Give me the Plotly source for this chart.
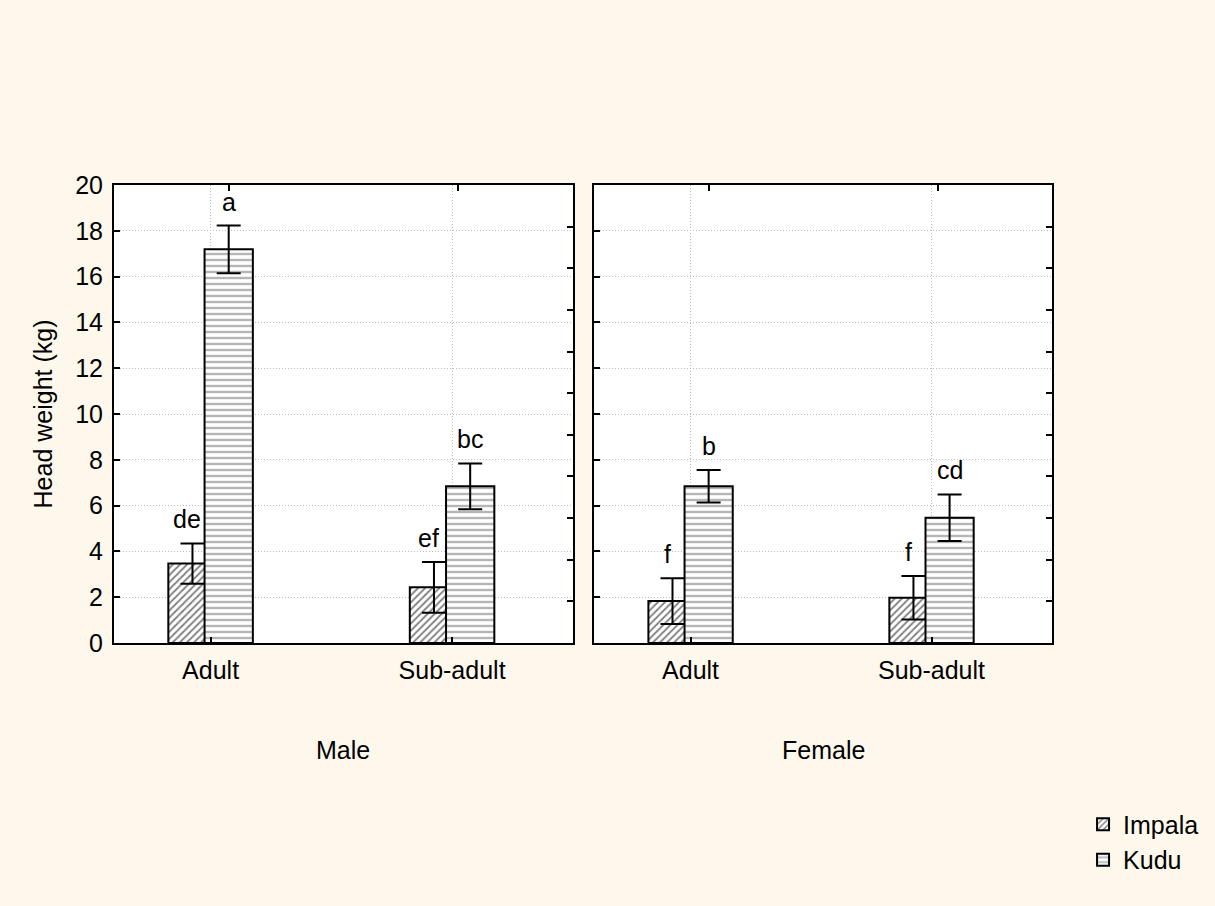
import plotly.graph_objects as go

# ---------------- data ----------------
categories = ["Adult", "Sub-adult"]
panels = ["Male", "Female"]

impala_male = [3.47, 2.43]
impala_male_err = [0.88, 1.11]
kudu_male = [17.19, 6.84]
kudu_male_err = [1.04, 1.00]

impala_female = [1.83, 1.98]
impala_female_err = [1.00, 0.95]
kudu_female = [6.84, 5.47]
kudu_female_err = [0.71, 1.02]

impala_male_letters = ["de", "ef"]
kudu_male_letters = ["a", "bc"]
impala_female_letters = ["f", "f"]
kudu_female_letters = ["b", "cd"]

y_ticks = list(range(0, 21, 2))

# ---------------- style ----------------
FONT = "Arial, 'Liberation Sans', sans-serif"
FS = 25
BG = "#FEF8EC"
BAR_W = 0.2
IMP_OFF = -0.175
KUD_OFF = -0.025
GRID = "#BDBDBD"

imp_pattern = dict(shape="/", fgcolor="black", bgcolor="white", size=5, solidity=0.36, fillmode="overlay")
kud_pattern = dict(shape="-", fgcolor="#6E6E6E", bgcolor="white", size=6, solidity=0.4, fillmode="overlay")

fig = go.Figure()

data_sets = [
    ("x", "y", impala_male, impala_male_err, kudu_male, kudu_male_err, impala_male_letters, kudu_male_letters, True),
    ("x2", "y2", impala_female, impala_female_err, kudu_female, kudu_female_err, impala_female_letters, kudu_female_letters, False),
]

annotations = []
for xa, ya, imp, imp_e, kud, kud_e, imp_l, kud_l, show in data_sets:
    fig.add_trace(go.Bar(
        x=categories, y=imp, name="Impala", width=BAR_W, offset=IMP_OFF,
        marker=dict(color="white", pattern=imp_pattern, line=dict(color="black", width=2)),
        error_y=dict(type="data", array=imp_e, color="black", thickness=2, width=12),
        xaxis=xa, yaxis=ya, showlegend=show, legendgroup="imp", opacity=1,
    ))
    fig.add_trace(go.Bar(
        x=categories, y=kud, name="Kudu", width=BAR_W, offset=KUD_OFF,
        marker=dict(color="white", pattern=kud_pattern, line=dict(color="black", width=2)),
        error_y=dict(type="data", array=kud_e, color="black", thickness=2, width=12),
        xaxis=xa, yaxis=ya, showlegend=show, legendgroup="kud", opacity=1,
    ))
    for i in range(len(categories)):
        annotations.append(dict(
            x=i + IMP_OFF + BAR_W / 2, y=imp[i] + imp_e[i], xref=xa, yref=ya,
            text=imp_l[i], showarrow=False, yanchor="bottom", xanchor="center",
            yshift=8, xshift=-5, font=dict(family=FONT, size=FS, color="black"),
        ))
        annotations.append(dict(
            x=i + KUD_OFF + BAR_W / 2, y=kud[i] + kud_e[i], xref=xa, yref=ya,
            text=kud_l[i], showarrow=False, yanchor="bottom", xanchor="center",
            yshift=8, font=dict(family=FONT, size=FS, color="black"),
        ))

# empty traces so the decorative overlay axes (top / right ticks) are drawn
fig.add_trace(go.Scatter(x=[], y=[], xaxis="x3", yaxis="y3", showlegend=False))
fig.add_trace(go.Scatter(x=[], y=[], xaxis="x4", yaxis="y4", showlegend=False))

for j, name in enumerate(panels):
    annotations.append(dict(
        x=0.5, xref=("x domain" if j == 0 else "x2 domain"), y=-0.2336, yref="paper",
        text=name, showarrow=False, yanchor="middle", xanchor="center",
        font=dict(family=FONT, size=FS, color="black"),
    ))

dom_l = [0.0, 0.48914]
dom_r = [0.51193, 1.0]
XR = [-0.4, 1.5]

xcommon = dict(
    type="category", range=XR, showline=True, linecolor="black", linewidth=2, mirror=True,
    ticks="inside", ticklen=6, tickwidth=2, tickcolor="black",
    showgrid=True, gridcolor=GRID, griddash="1px,2px", gridwidth=1,
    tickfont=dict(family=FONT, size=FS, color="black"), ticklabelstandoff=4,
)
ycommon = dict(
    range=[0, 20], tickvals=y_ticks, showline=True, linecolor="black", linewidth=2, mirror=True,
    ticks="inside", ticklen=6, tickwidth=2, tickcolor="black",
    showgrid=True, gridcolor=GRID, griddash="1px,2px", gridwidth=1, zeroline=False,
    tickfont=dict(family=FONT, size=FS, color="black"),
)
top_common = dict(range=[0, 1], tickvals=[0.25, 0.75], ticks="inside", ticklen=6, tickwidth=2,
                  tickcolor="black", showticklabels=False, showgrid=False, zeroline=False,
                  showline=False, side="top")
right_common = dict(range=[0, 11], tickvals=list(range(1, 11)), ticks="inside", ticklen=6, tickwidth=2,
                    tickcolor="black", showticklabels=False, showgrid=False, zeroline=False,
                    showline=False, side="right")

fig.update_layout(
    width=1215, height=906,
    paper_bgcolor=BG, plot_bgcolor="white",
    margin=dict(l=114, r=162, t=185, b=263),
    barmode="overlay",
    font=dict(family=FONT, size=FS, color="black"),
    xaxis=dict(domain=dom_l, anchor="y", **xcommon),
    yaxis=dict(domain=[0, 1], anchor="x", ticklabelstandoff=4,
               title=dict(text="Head weight (kg)", font=dict(family=FONT, size=FS), standoff=15),
               **ycommon),
    xaxis2=dict(domain=dom_r, anchor="y2", **xcommon),
    yaxis2=dict(domain=[0, 1], anchor="x2", showticklabels=False, **ycommon),
    xaxis3=dict(domain=dom_l, anchor="y3", overlaying="x", **top_common),
    yaxis3=dict(domain=[0, 1], anchor="x3", overlaying="y", **right_common),
    xaxis4=dict(domain=dom_r, anchor="y4", overlaying="x2", **top_common),
    yaxis4=dict(domain=[0, 1], anchor="x4", overlaying="y2", **right_common),
    legend=dict(x=1.032, xanchor="left", y=-0.346, yanchor="top", bgcolor="rgba(0,0,0,0)",
                font=dict(family=FONT, size=FS, color="black"), tracegroupgap=0,
                itemwidth=30),
    annotations=annotations,
)

fig.write_html(
    "out.html",
    config={"displayModeBar": False},
    post_script="document.body.style.margin='0';document.body.style.background='" + BG + "';",
)
